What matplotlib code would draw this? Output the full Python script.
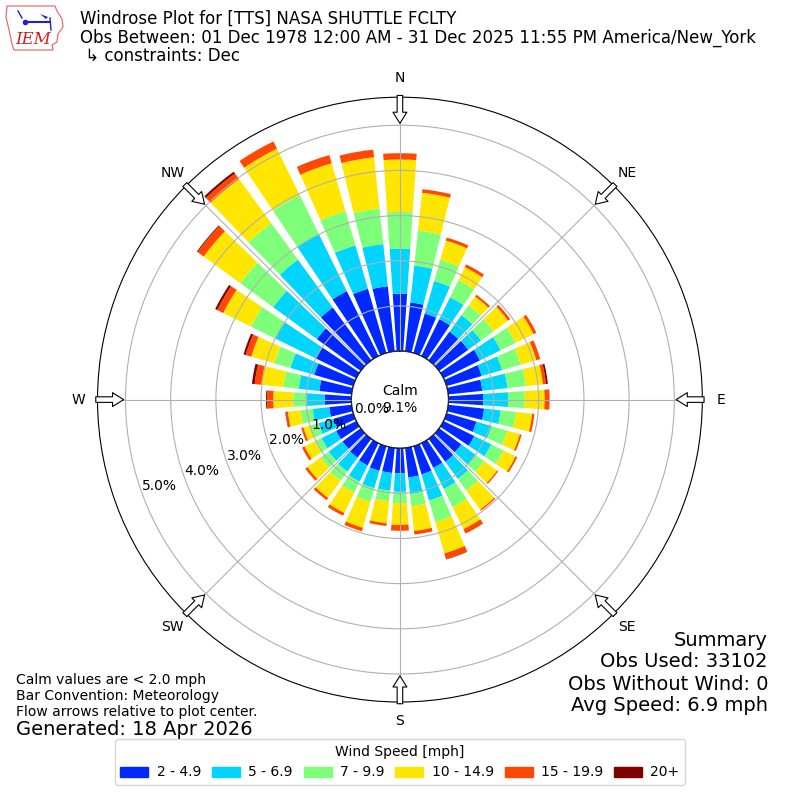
import numpy as np
import matplotlib
matplotlib.use("Agg")
import matplotlib.pyplot as plt
from matplotlib.patches import Patch, Circle, Polygon

# direcciones (grados, convencion meteorologica) y frecuencias (%) por clase de velocidad
direcciones = np.arange(0, 360, 10)
f_2_5 = [1.27, 1.09, 0.91, 0.91, 0.79, 0.80, 0.90, 0.81, 0.76, 0.77, 0.80, 0.69,
         0.76, 0.61, 0.63, 0.61, 0.65, 0.66, 0.56, 0.56, 0.57, 0.55, 0.52, 0.50,
         0.50, 0.45, 0.50, 0.59, 0.72, 0.90, 1.00, 1.20, 1.45, 1.60, 1.48, 1.45]
f_5_7 = [1.00, 0.82, 0.75, 0.54, 0.45, 0.35, 0.51, 0.47, 0.56, 0.55, 0.37, 0.35,
         0.42, 0.39, 0.47, 0.52, 0.60, 0.37, 0.41, 0.40, 0.40, 0.40, 0.38, 0.38,
         0.36, 0.35, 0.37, 0.40, 0.46, 0.55, 1.00, 1.20, 1.31, 1.41, 1.00, 0.94]
f_7_10 = [0.81, 0.78, 0.49, 0.42, 0.27, 0.34, 0.37, 0.43, 0.41, 0.37, 0.34, 0.36,
          0.30, 0.24, 0.32, 0.45, 0.50, 0.27, 0.25, 0.23, 0.31, 0.27, 0.25, 0.22,
          0.16, 0.20, 0.27, 0.30, 0.34, 0.37, 0.60, 0.90, 1.00, 0.96, 0.79, 0.79]
f_10_15 = [1.16, 0.84, 0.44, 0.32, 0.24, 0.40, 0.44, 0.36, 0.38, 0.44, 0.36, 0.29,
           0.30, 0.35, 0.52, 0.54, 0.72, 0.55, 0.48, 0.49, 0.60, 0.50, 0.47, 0.36,
           0.26, 0.15, 0.28, 0.44, 0.49, 0.53, 0.68, 1.00, 1.21, 1.14, 1.10, 1.14]
f_15_20 = [0.14, 0.08, 0.07, 0.07, 0.05, 0.06, 0.07, 0.09, 0.07, 0.11, 0.05, 0.04,
           0.04, 0.03, 0.03, 0.11, 0.13, 0.08, 0.13, 0.06, 0.08, 0.07, 0.06, 0.06,
           0.06, 0.05, 0.05, 0.14, 0.15, 0.13, 0.15, 0.17, 0.15, 0.18, 0.19, 0.17]
f_20 = [0.00, 0.00, 0.00, 0.00, 0.00, 0.00, 0.00, 0.00, 0.04, 0.00, 0.00, 0.00,
        0.00, 0.00, 0.00, 0.00, 0.01, 0.00, 0.00, 0.00, 0.00, 0.00, 0.00, 0.00,
        0.00, 0.00, 0.01, 0.02, 0.06, 0.05, 0.05, 0.02, 0.05, 0.00, 0.00, 0.00]
clases = ["2 - 4.9", "5 - 6.9", "7 - 9.9", "10 - 14.9", "15 - 19.9", "20+"]
calma = 9.1
rticks = [0, 1, 2, 3, 4, 5]
puntos = ["N", "NE", "E", "SE", "S", "SW", "W", "NW"]

series = [f_2_5, f_5_7, f_7_10, f_10_15, f_15_20, f_20]
cmap = plt.get_cmap("jet")
colores = [cmap(v) for v in np.linspace(1 / 6, 1, 6)]

fig = plt.figure(figsize=(8, 8), dpi=100)
ax = fig.add_axes([0.1219, 0.1225, 0.756, 0.756], projection="polar")
ax.set_theta_zero_location("N")
ax.set_theta_direction(-1)

theta = np.deg2rad(direcciones)
base = np.zeros(len(direcciones))
for vals, col in zip(series, colores):
    vals = np.array(vals)
    ax.bar(theta, vals, width=np.deg2rad(7.8), bottom=base, color=col,
           linewidth=0, zorder=1)
    base = base + vals

ax.set_ylim(0, 5.62)
ax.set_rorigin(-1.073)
ax.set_yticks(rticks)
ax.set_yticklabels([f"{t:.1f}%" for t in rticks], fontsize=10)
ax.set_rlabel_position(250)
ang = np.arange(0, 360, 45)
ax.set_xticks(np.deg2rad(ang))
ax.set_xticklabels(puntos, fontsize=10)
ax.tick_params(axis="x", pad=3)
ax.grid(True, color="#b0b0b0", lw=0.8)
ax.set_axisbelow(False)  # rejilla y etiquetas por encima de las barras

# circulo de calma
ax.add_patch(Circle((0.5, 0.5), 48.5 / 605, transform=ax.transAxes,
                    fc="white", ec="none", zorder=1.2))
ax.add_patch(Circle((0.5, 0.5), 48.5 / 605, transform=ax.transAxes,
                    fill=False, ec="black", lw=1, zorder=3))
ax.text(0.5, 0.5, f"Calm\n{calma}%", transform=ax.transAxes, ha="center",
        va="center", fontsize=10, zorder=6)

# flechas de flujo
for a in ang:
    ax.annotate("", xy=(np.deg2rad(a), 4.98), xytext=(np.deg2rad(a), 5.72),
                arrowprops=dict(arrowstyle="simple,head_length=0.8,head_width=1.0,tail_width=0.4",
                                fc="white", ec="black", lw=0.8),
                annotation_clip=False, zorder=7)

# encabezado
fig.text(0.1, 0.976, "Windrose Plot for [TTS] NASA SHUTTLE FCLTY", fontsize=12, va="center")
fig.text(0.1, 0.953, "Obs Between: 01 Dec 1978 12:00 AM - 31 Dec 2025 11:55 PM America/New_York",
         fontsize=12, va="center")
fig.text(0.1, 0.930, " \u21b3 constraints: Dec", fontsize=12, va="center")

# logo IEM (aproximado)
logo = fig.add_axes([0.0, 0.93125, 0.0875, 0.06875])
logo.axis("off")
logo.set_xlim(0, 70)
logo.set_ylim(55, 0)
logo.add_patch(Polygon([[7, 6], [55, 6], [57, 11], [62, 19], [63, 27], [58, 34], [57, 42],
                        [52, 45], [53, 50], [14, 50], [12, 44], [9, 30], [6, 17]],
                       closed=True, fill=False, ec="#e06060", lw=0.8))
logo.plot([25, 50], [22, 22], color="#2020d0", lw=1.5)
logo.plot([18, 22], [11, 18], color="#2020d0", lw=1.0)
logo.plot([25], [22], "o", color="#2020d0", ms=3)
logo.add_patch(Polygon([[40, 14], [48, 17], [46, 19]], closed=True, fc="#2020d0", ec="none"))
logo.plot([50, 51], [18, 30], color="#2020d0", lw=1.0)
logo.text(33, 39, "IEM", color="#d02020", fontsize=12, family="DejaVu Serif",
          style="italic", ha="center", va="center")

# textos inferiores
fig.text(0.02, 0.150, "Calm values are < 2.0 mph", fontsize=10, va="center")
fig.text(0.02, 0.130, "Bar Convention: Meteorology", fontsize=10, va="center")
fig.text(0.02, 0.110, "Flow arrows relative to plot center.", fontsize=10, va="center")
fig.text(0.02, 0.088, "Generated: 18 Apr 2026", fontsize=14, va="center")

fig.text(0.96, 0.200, "Summary", fontsize=14, ha="right", va="center")
fig.text(0.96, 0.173, "Obs Used: 33102", fontsize=14, ha="right", va="center")
fig.text(0.96, 0.145, "Obs Without Wind: 0", fontsize=14, ha="right", va="center")
fig.text(0.96, 0.118, "Avg Speed: 6.9 mph", fontsize=14, ha="right", va="center")

handles = [Patch(color=c, label=l) for c, l in zip(colores, clases)]
fig.legend(handles=handles, loc="lower center", bbox_to_anchor=(0.5, 0.01), ncol=6,
           title="Wind Speed [mph]", fontsize=10, title_fontsize=10,
           columnspacing=0.8, handlelength=2.0, handletextpad=0.6)

fig.savefig("out.png", dpi=100)
